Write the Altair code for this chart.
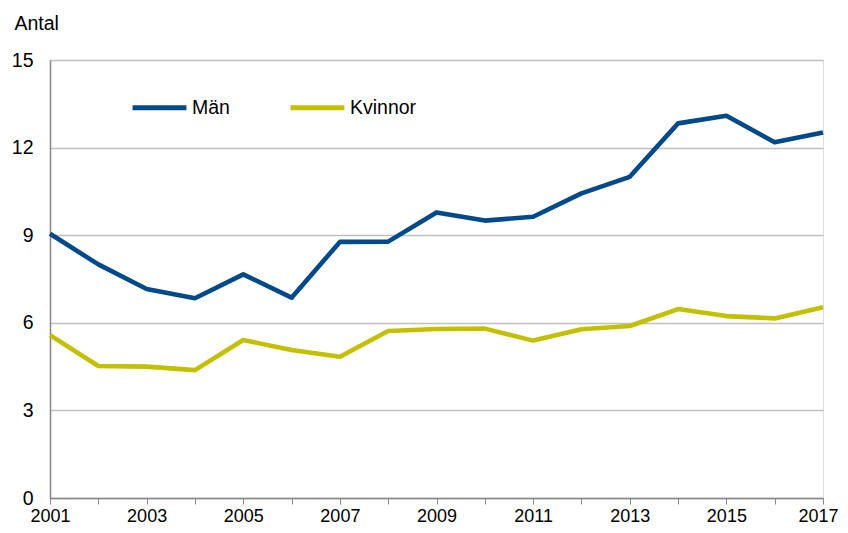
import altair as alt
import pandas as pd

years = list(range(2001, 2018))
man = [9.05, 8.0, 7.16, 6.84, 7.66, 6.86, 8.77, 8.78, 9.78, 9.50, 9.63, 10.43, 11.0, 12.83, 13.09, 12.18, 12.52]
kvinnor = [5.58, 4.52, 4.50, 4.38, 5.41, 5.07, 4.84, 5.72, 5.79, 5.80, 5.39, 5.78, 5.89, 6.47, 6.23, 6.15, 6.53]
series = ["Män", "Kvinnor"]
colors = ["#004a8b", "#c3c000"]

rows = []
for y, m, k in zip(years, man, kvinnor):
    rows.append({"year": y, "value": m, "serie": "Män"})
    rows.append({"year": y, "value": k, "serie": "Kvinnor"})
df = pd.DataFrame(rows)

FONT = "Liberation Sans"
FS = 19.5
XFS = 18

chart = alt.Chart(df).mark_line(strokeWidth=4.6, strokeJoin="round").encode(
    x=alt.X("year:Q",
            scale=alt.Scale(domain=[2001, 2017], nice=False, zero=False),
            axis=alt.Axis(values=years, title=None, grid=False,
                          labelExpr="datum.value % 2 == 1 ? datum.label : ''",
                          format="d", tickSize=6, tickColor="#868686",
                          domainColor="#868686", domainWidth=1.5,
                          labelFontSize=XFS, labelPadding=3, labelFont=FONT,
                          labelColor="black", labelOverlap=False,
                          labelOffset={"condition": {"test": "datum.value == 2017", "value": -5}, "value": 0},
                          labelFlush=False, labelBound=False)),
    y=alt.Y("value:Q",
            scale=alt.Scale(domain=[0, 15], nice=False),
            axis=alt.Axis(values=[0, 3, 6, 9, 12, 15], title="Antal",
                          titleAngle=0, titleAlign="left", titleBaseline="alphabetic",
                          titleX=-36, titleY=-31, titleFont=FONT, titleFontSize=FS,
                          titleFontWeight="normal", titleColor="black",
                          ticks=False, labelPadding=17, labelFontSize=FS,
                          labelFont=FONT, labelColor="black",
                          gridColor="#c0c0c0", gridWidth=1.5,
                          domainColor="#868686", domainWidth=1.5)),
    color=alt.Color("serie:N",
                    scale=alt.Scale(domain=series, range=colors),
                    legend=alt.Legend(title=None, orient="none", direction="horizontal",
                                      legendX=80, legendY=18, padding=0,
                                      symbolType="stroke", symbolSize=2900,
                                      symbolStrokeWidth=5, labelFontSize=FS,
                                      labelFont=FONT, labelColor="black",
                                      labelOffset=3, columnPadding=50)),
).properties(
    width=773, height=438,
    autosize=alt.AutoSizeParams(type="none"),
    padding={"left": 42, "top": 52, "right": 17, "bottom": 27},
).configure_view(stroke="#868686", strokeWidth=1.5).configure(background="white")

chart.save("out.html", embed_options={"renderer": "svg", "actions": False})
